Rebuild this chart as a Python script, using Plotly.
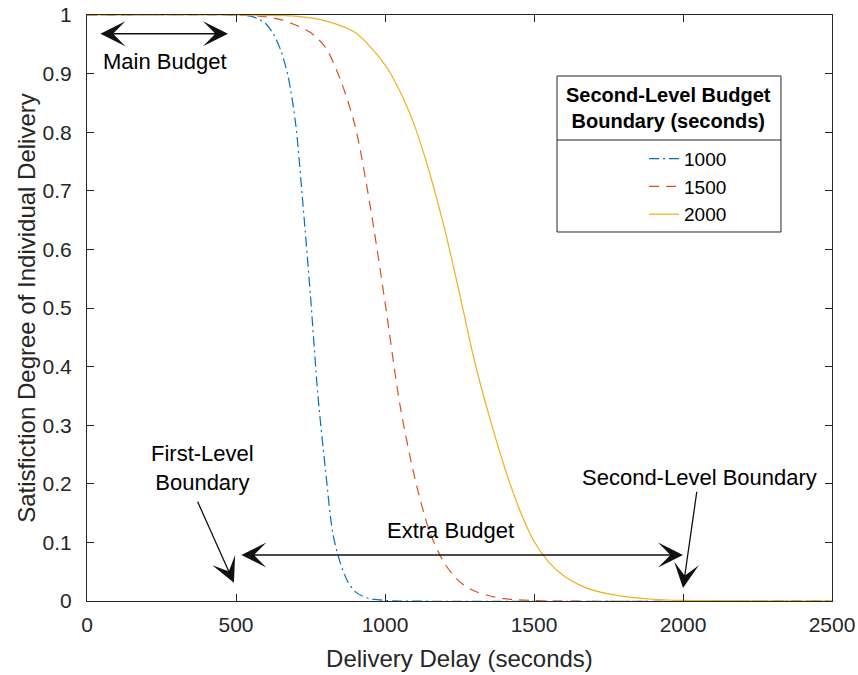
import plotly.graph_objects as go

# ---- data ----
x_1000 = [0, 500, 550, 575, 600, 625, 650, 675, 700, 725, 750, 775, 800, 825, 850, 875, 900, 925, 950, 1000, 1050, 2500]
y_1000 = [1, 1, 0.998, 0.993, 0.985, 0.968, 0.94, 0.895, 0.815, 0.675, 0.52, 0.35, 0.225, 0.115, 0.065, 0.033, 0.016, 0.008, 0.004, 0.001, 0, 0]

x_1500 = [0, 500, 600, 650, 700, 750, 800, 850, 900, 950, 1000, 1050, 1100, 1150, 1200, 1250, 1300, 1350, 1400, 1450, 1500, 1550, 2500]
y_1500 = [1, 1, 0.997, 0.992, 0.983, 0.97, 0.945, 0.89, 0.81, 0.675, 0.51, 0.335, 0.21, 0.118, 0.064, 0.033, 0.017, 0.009, 0.004, 0.002, 0.001, 0, 0]

x_2000 = [0, 500, 700, 800, 900, 1000, 1050, 1100, 1150, 1200, 1250, 1300, 1350, 1400, 1450, 1500, 1550, 1600, 1650, 1700, 1800, 1900, 2000, 2500]
y_2000 = [1, 1, 0.998, 0.99, 0.97, 0.915, 0.87, 0.81, 0.73, 0.635, 0.525, 0.41, 0.315, 0.23, 0.158, 0.102, 0.066, 0.043, 0.028, 0.018, 0.008, 0.003, 0.001, 0]

series_names = ["1000", "1500", "2000"]
x_ticks = [0, 500, 1000, 1500, 2000, 2500]
y_ticks = [0, 0.1, 0.2, 0.3, 0.4, 0.5, 0.6, 0.7, 0.8, 0.9, 1]
y_tick_labels = ["0", "0.1", "0.2", "0.3", "0.4", "0.5", "0.6", "0.7", "0.8", "0.9", "1"]

FONT = "Liberation Sans, Arial, Helvetica, sans-serif"
AX = "#262626"

fig = go.Figure()
styles = [("#0072BD", "10px,4px,2px,4px"), ("#D95319", "10px,7px"), ("#EDB120", "solid")]
for xs, ys, name, (c, d) in zip([x_1000, x_1500, x_2000], [y_1000, y_1500, y_2000], series_names, styles):
    fig.add_trace(go.Scatter(x=xs, y=ys, mode="lines", name=name,
                             line=dict(color=c, dash=d, width=1.2, shape="spline", smoothing=0.8)))

axis_common = dict(showgrid=False, zeroline=False, showline=True, linecolor=AX, linewidth=1,
                   mirror="ticks", ticks="inside", ticklen=7, tickcolor=AX, tickwidth=1,
                   automargin=False, ticklabeloverflow="allow",
                   tickfont=dict(family=FONT, size=21, color=AX))

fig.update_xaxes(range=[0, 2500], tickvals=x_ticks, ticktext=[str(v) for v in x_ticks],
                 ticklabelstandoff=5,
                 title=dict(text="Delivery Delay (seconds)", font=dict(family=FONT, size=24, color=AX), standoff=14),
                 **axis_common)
fig.update_yaxes(range=[0, 1], tickvals=y_ticks, ticktext=y_tick_labels,
                 ticklabelstandoff=10,
                 title=dict(text="Satisfiction Degree of Individual Delivery", font=dict(family=FONT, size=24, color=AX), standoff=0),
                 **axis_common)

def arrow(x, y, ax, ay, both=False):
    d = dict(x=x, y=y, ax=ax, ay=ay, xref="x", yref="y", axref="x", ayref="y", text="",
             showarrow=True, arrowhead=3, arrowsize=3.2, arrowwidth=1.3, arrowcolor="#111111")
    if both:
        d.update(arrowside="end+start", startarrowhead=3, startarrowsize=3.2)
    return d

anns = [
    arrow(473, 0.968, 40, 0.968, both=True),
    arrow(2000, 0.0785, 513, 0.0785, both=True),
    arrow(493, 0.031, 369, 0.172),
    arrow(2000, 0.022, 2047, 0.189),
    dict(x=262, y=0.92, xref="x", yref="y", text="Main Budget", showarrow=False,
         font=dict(family=FONT, size=22, color="black")),
    dict(x=1221, y=0.121, xref="x", yref="y", text="Extra Budget", showarrow=False,
         font=dict(family=FONT, size=22, color="black")),
    dict(x=386, y=0.227, xref="x", yref="y", text="First-Level<br>Boundary", showarrow=False,
         font=dict(family=FONT, size=22, color="black")),
    dict(x=2057, y=0.21, xref="x", yref="y", text="Second-Level Boundary", showarrow=False,
         font=dict(family=FONT, size=22, color="black")),
    # legend title
    dict(x=0.7812, y=0.8413, xref="paper", yref="paper", xanchor="center", yanchor="middle",
         text="<b>Second-Level Budget<br>Boundary (seconds)</b>",
         showarrow=False, font=dict(family=FONT, size=20, color="black")),
]

shapes = [
    dict(type="rect", xref="paper", yref="paper", x0=0.6309, x1=0.9315, y0=0.6297, y1=0.8959,
         line=dict(color=AX, width=1), fillcolor="white", layer="below"),
    dict(type="line", xref="paper", yref="paper", x0=0.6309, x1=0.9315, y0=0.7867, y1=0.7867,
         line=dict(color=AX, width=1)),
]

fig.update_layout(
    width=858, height=675,
    margin=dict(l=87, r=26, t=15, b=74, autoexpand=False),
    paper_bgcolor="white", plot_bgcolor="white",
    font=dict(family=FONT, color=AX),
    annotations=anns, shapes=shapes,
    showlegend=True,
    legend=dict(x=0.7477, y=0.787, xanchor="left", yanchor="top", bgcolor="rgba(0,0,0,0)",
                borderwidth=0, font=dict(family=FONT, size=19, color="black"),
                tracegroupgap=0),
)

# remove the default page margin so the figure fills the window exactly
fig.write_html("out.html", config={"displayModeBar": False},
               post_script="document.body.style.margin='0';document.documentElement.style.overflow='hidden';")
